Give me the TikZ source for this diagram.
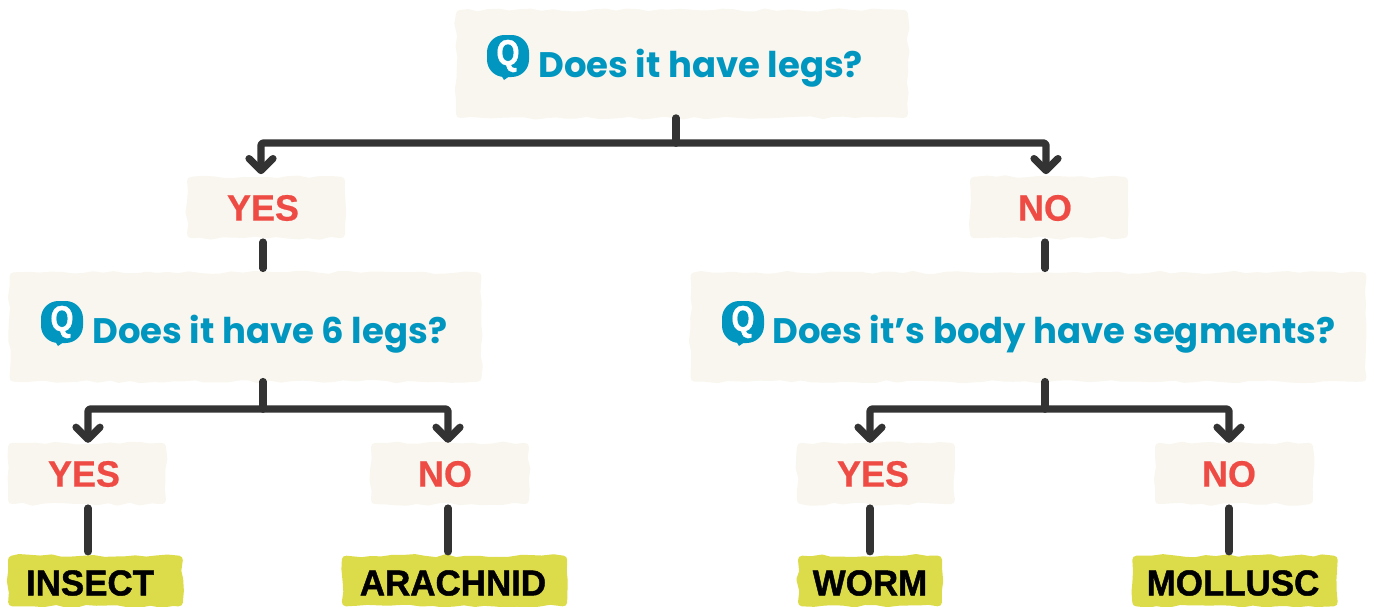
\documentclass[tikz,border=0pt]{standalone}
\usepackage{fontspec}
\setmainfont{Poppins}
\newfontfamily\labelfont[FakeBold=0.6,FakeStretch=0.98]{Liberation Sans}
\newfontfamily\leaffont[FakeBold=1.2,FakeStretch=0.97]{Liberation Sans}
\newfontfamily\iconfont[FakeBold=1.2,FakeStretch=0.82]{Liberation Sans}
\usetikzlibrary{decorations.pathmorphing,arrows.meta,calc}
\definecolor{cream}{HTML}{F8F6EE}
\definecolor{qblue}{HTML}{0096C0}
\definecolor{ansred}{HTML}{EF4B45}
\definecolor{leafy}{HTML}{DCDB4A}
\definecolor{linec}{HTML}{333333}
\tikzset{
  x=0.75pt,y=-0.75pt,
  blob/.style={fill=#1,draw=#1,line width=6pt,line join=round,inner sep=0pt,decorate,decoration={random steps,segment length=8pt,amplitude=1.2pt}},
  qbox/.style={blob=cream},
  ansbox/.style={blob=cream,minimum width=112.5pt,minimum height=40pt},
  leafbox/.style={blob=leafy,minimum height=32pt},
  qtext/.style={text=qblue,font=\fontsize{26.6pt}{30pt}\bfseries,inner sep=0pt},
  anstext/.style={text=ansred,font=\labelfont\fontsize{27.5pt}{30pt}\bfseries,inner sep=0pt},
  leaftext/.style={text=black,font=\leaffont\fontsize{27pt}{30pt}\bfseries,inner sep=0pt},
  qicon/.style={fill=qblue,text=white,rounded corners=13pt,minimum width=31.5pt,minimum height=31.5pt,inner sep=0pt,font=\iconfont\fontsize{27pt}{30pt}\bfseries},
  wire/.style={draw=linec,line width=5.6pt,line cap=round,line join=round},
  stemwire/.style={wire,shorten >=3pt,shorten <=3pt},
  arrowwire/.style={wire,rounded corners=2pt,-{Straight Barb[length=9pt,width=18pt,line width=5.4pt,round]},shorten >=-1pt},
}
\pgfmathsetseed{4242}
\begin{document}
\begin{tikzpicture}
\useasboundingbox (0,0) rectangle (1375,607);
% boxes
\node[qbox,minimum width=333pt,minimum height=75pt] (q1) at (682,64) {};
\node[ansbox] (yes1) at (266,207.5) {};
\node[ansbox] (no1) at (1049,207.5) {};
\node[qbox,minimum width=348pt,minimum height=76pt] (q2) at (245.5,327) {};
\node[qbox,minimum width=501pt,minimum height=76pt] (q3) at (1028.5,327) {};
\node[ansbox] (yes2) at (87,473.5) {};
\node[ansbox] (no2) at (450,473.5) {};
\node[ansbox] (yes3) at (876,473.5) {};
\node[ansbox] (no3) at (1234,473.5) {};
\node[leafbox,minimum width=125pt] (leaf1) at (95.5,581) {};
\node[leafbox,minimum width=163pt] (leaf2) at (454.5,581) {};
\node[leafbox,minimum width=102pt] (leaf3) at (870,581) {};
\node[leafbox,minimum width=148pt] (leaf4) at (1235,581) {};
% question icons
\fill[qblue] (498,70) -- (518,70) -- (504,80) -- cycle;
\fill[qblue] (52,336) -- (72,336) -- (58,346) -- cycle;
\fill[qblue] (733,336) -- (753,336) -- (739,346) -- cycle;
\node[qicon] (i1) at (508,56) {Q};
\node[qicon] (i2) at (62,322) {Q};
\node[qicon] (i3) at (743,322) {Q};
% texts
\node[qtext,anchor=west] (t1) at (538,68) {Does it have legs?};
\node[qtext,anchor=west] (t2) at (92,334) {Does it have 6 legs?};
\node[qtext,anchor=west] (t3) at (772,334) {Does it’s body have segments?};
\node[anstext] (ty1) at (263,208) {YES};
\node[anstext] (tn1) at (1045,208) {NO};
\node[anstext] (ty2) at (84,474) {YES};
\node[anstext] (tn2) at (445,474) {NO};
\node[anstext] (ty3) at (873,474) {YES};
\node[anstext] (tn3) at (1229,474) {NO};
\node[leaftext] (tl1) at (90,583) {INSECT};
\node[leaftext] (tl2) at (453,583) {ARACHNID};
\node[leaftext] (tl3) at (870,583) {WORM};
\node[leaftext] (tl4) at (1233,583) {MOLLUSC};
% junctions and column positions
\coordinate (j1) at (676,143);
\coordinate (j2) at (263,409);
\coordinate (j3) at (1045,409);
\coordinate (a1) at (261,0);
\coordinate (a2) at (1046,0);
\coordinate (c1) at (88,0);
\coordinate (c2) at (448,0);
\coordinate (c3) at (870,0);
\coordinate (c4) at (1229,0);
% connectors
\draw[wire] (j1) -- (j1 |- q1.south);
\draw[arrowwire] (j1) -| ([yshift=3pt]a1 |- yes1.north);
\draw[arrowwire] (j1) -| ([yshift=3pt]a2 |- no1.north);
\draw[stemwire] (j2 |- yes1.south) -- (j2 |- q2.north);
\draw[stemwire] (j3 |- no1.south) -- (j3 |- q3.north);
\draw[wire] (j2) -- (j2 |- q2.south);
\draw[wire] (j3) -- (j3 |- q3.south);
\draw[arrowwire] (j2) -| ([yshift=1pt]c1 |- yes2.north);
\draw[arrowwire] (j2) -| ([yshift=1pt]c2 |- no2.north);
\draw[arrowwire] (j3) -| ([yshift=1pt]c3 |- yes3.north);
\draw[arrowwire] (j3) -| ([yshift=1pt]c4 |- no3.north);
\draw[stemwire] (c1 |- yes2.south) -- (c1 |- leaf1.north);
\draw[stemwire] (c2 |- no2.south) -- (c2 |- leaf2.north);
\draw[stemwire] (c3 |- yes3.south) -- (c3 |- leaf3.north);
\draw[stemwire] (c4 |- no3.south) -- (c4 |- leaf4.north);
\end{tikzpicture}
\end{document}
